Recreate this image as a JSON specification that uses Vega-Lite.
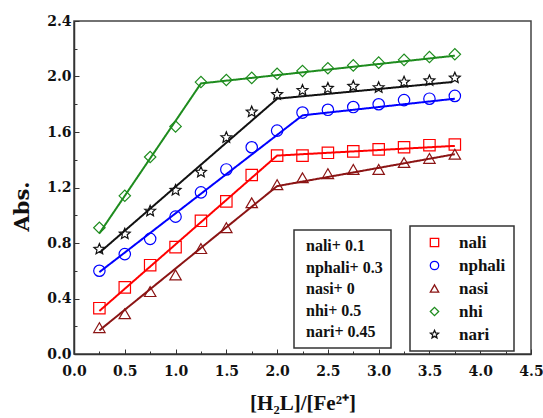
{
  "$schema": "https://vega.github.io/schema/vega-lite/v6.json",
  "width": 457,
  "height": 333,
  "autosize": {"type": "none"},
  "padding": {"left": 74, "top": 21, "right": 12, "bottom": 64},
  "background": "white",
  "config": {
    "view": {"stroke": "#444", "strokeWidth": 1.5},
    "axis": {
      "grid": false,
      "domainColor": "#333",
      "domainWidth": 1.5,
      "tickColor": "#333",
      "tickWidth": 1,
      "labelFont": "DejaVu Serif",
      "labelFontWeight": "bold",
      "labelFontSize": 14,
      "labelColor": "#111",
      "titleColor": "#111"
    },
    "legend": {"strokeWidth": 1.5, "strokeColor": "#333", "fillColor": "white"}
  },
  "datasets": {
    "points": [
      {"series": "nali", "x": 0.25, "y": 0.33}, {"series": "nali", "x": 0.5, "y": 0.48}, {"series": "nali", "x": 0.75, "y": 0.64}, {"series": "nali", "x": 1.0, "y": 0.77}, {"series": "nali", "x": 1.25, "y": 0.96}, {"series": "nali", "x": 1.5, "y": 1.10}, {"series": "nali", "x": 1.75, "y": 1.29}, {"series": "nali", "x": 2.0, "y": 1.43}, {"series": "nali", "x": 2.25, "y": 1.43}, {"series": "nali", "x": 2.5, "y": 1.45}, {"series": "nali", "x": 2.75, "y": 1.46}, {"series": "nali", "x": 3.0, "y": 1.475}, {"series": "nali", "x": 3.25, "y": 1.49}, {"series": "nali", "x": 3.5, "y": 1.505}, {"series": "nali", "x": 3.75, "y": 1.51},
      {"series": "nphali", "x": 0.25, "y": 0.60}, {"series": "nphali", "x": 0.5, "y": 0.72}, {"series": "nphali", "x": 0.75, "y": 0.83}, {"series": "nphali", "x": 1.0, "y": 0.99}, {"series": "nphali", "x": 1.25, "y": 1.165}, {"series": "nphali", "x": 1.5, "y": 1.33}, {"series": "nphali", "x": 1.75, "y": 1.49}, {"series": "nphali", "x": 2.0, "y": 1.61}, {"series": "nphali", "x": 2.25, "y": 1.74}, {"series": "nphali", "x": 2.5, "y": 1.76}, {"series": "nphali", "x": 2.75, "y": 1.78}, {"series": "nphali", "x": 3.0, "y": 1.80}, {"series": "nphali", "x": 3.25, "y": 1.83}, {"series": "nphali", "x": 3.5, "y": 1.84}, {"series": "nphali", "x": 3.75, "y": 1.86},
      {"series": "nasi", "x": 0.25, "y": 0.19}, {"series": "nasi", "x": 0.5, "y": 0.29}, {"series": "nasi", "x": 0.75, "y": 0.45}, {"series": "nasi", "x": 1.0, "y": 0.57}, {"series": "nasi", "x": 1.25, "y": 0.76}, {"series": "nasi", "x": 1.5, "y": 0.91}, {"series": "nasi", "x": 1.75, "y": 1.09}, {"series": "nasi", "x": 2.0, "y": 1.22}, {"series": "nasi", "x": 2.25, "y": 1.27}, {"series": "nasi", "x": 2.5, "y": 1.30}, {"series": "nasi", "x": 2.75, "y": 1.33}, {"series": "nasi", "x": 3.0, "y": 1.33}, {"series": "nasi", "x": 3.25, "y": 1.38}, {"series": "nasi", "x": 3.5, "y": 1.41}, {"series": "nasi", "x": 3.75, "y": 1.44},
      {"series": "nhi", "x": 0.25, "y": 0.91}, {"series": "nhi", "x": 0.5, "y": 1.14}, {"series": "nhi", "x": 0.75, "y": 1.42}, {"series": "nhi", "x": 1.0, "y": 1.64}, {"series": "nhi", "x": 1.25, "y": 1.96}, {"series": "nhi", "x": 1.5, "y": 1.975}, {"series": "nhi", "x": 1.75, "y": 1.99}, {"series": "nhi", "x": 2.0, "y": 2.02}, {"series": "nhi", "x": 2.25, "y": 2.04}, {"series": "nhi", "x": 2.5, "y": 2.06}, {"series": "nhi", "x": 2.75, "y": 2.08}, {"series": "nhi", "x": 3.0, "y": 2.10}, {"series": "nhi", "x": 3.25, "y": 2.12}, {"series": "nhi", "x": 3.5, "y": 2.14}, {"series": "nhi", "x": 3.75, "y": 2.16},
      {"series": "nari", "x": 0.25, "y": 0.755}, {"series": "nari", "x": 0.5, "y": 0.865}, {"series": "nari", "x": 0.75, "y": 1.03}, {"series": "nari", "x": 1.0, "y": 1.18}, {"series": "nari", "x": 1.25, "y": 1.31}, {"series": "nari", "x": 1.5, "y": 1.56}, {"series": "nari", "x": 1.75, "y": 1.745}, {"series": "nari", "x": 2.0, "y": 1.87}, {"series": "nari", "x": 2.25, "y": 1.90}, {"series": "nari", "x": 2.5, "y": 1.915}, {"series": "nari", "x": 2.75, "y": 1.93}, {"series": "nari", "x": 3.0, "y": 1.92}, {"series": "nari", "x": 3.25, "y": 1.96}, {"series": "nari", "x": 3.5, "y": 1.97}, {"series": "nari", "x": 3.75, "y": 1.99}
    ],
    "fits": [
      {"series": "nali", "note": "nali+ 0.1", "x": 0.25, "y": 0.31}, {"series": "nali", "note": "nali+ 0.1", "x": 2.0, "y": 1.43}, {"series": "nali", "note": "nali+ 0.1", "x": 3.75, "y": 1.50},
      {"series": "nphali", "note": "nphali+ 0.3", "x": 0.25, "y": 0.59}, {"series": "nphali", "note": "nphali+ 0.3", "x": 2.25, "y": 1.72}, {"series": "nphali", "note": "nphali+ 0.3", "x": 3.75, "y": 1.84},
      {"series": "nasi", "note": "nasi+ 0", "x": 0.25, "y": 0.17}, {"series": "nasi", "note": "nasi+ 0", "x": 2.0, "y": 1.21}, {"series": "nasi", "note": "nasi+ 0", "x": 3.75, "y": 1.44},
      {"series": "nhi", "note": "nhi+ 0.5", "x": 0.25, "y": 0.87}, {"series": "nhi", "note": "nhi+ 0.5", "x": 1.25, "y": 1.95}, {"series": "nhi", "note": "nhi+ 0.5", "x": 3.75, "y": 2.15},
      {"series": "nari", "note": "nari+ 0.45", "x": 0.25, "y": 0.73}, {"series": "nari", "note": "nari+ 0.45", "x": 2.0, "y": 1.84}, {"series": "nari", "note": "nari+ 0.45", "x": 3.72, "y": 1.96}
    ]
  },
  "encoding": {
    "x": {
      "field": "x", "type": "quantitative",
      "scale": {"domain": [0, 4.5], "nice": false, "zero": false},
      "axis": {
        "values": [0, 0.25, 0.5, 0.75, 1, 1.25, 1.5, 1.75, 2, 2.25, 2.5, 2.75, 3, 3.25, 3.5, 3.75, 4, 4.25, 4.5],
        "labelExpr": "abs(datum.value*2 - round(datum.value*2)) < 0.001 ? format(datum.value, '.1f') : ''",
        "tickSize": {"condition": {"test": "abs(datum.value*2 - round(datum.value*2)) < 0.001", "value": -5}, "value": -3},
        "labelPadding": 15,
        "labelFlush": false,
        "labelOverlap": false,
        "title": "[H₂L]/[Fe²⁺]",
        "titleFont": "Liberation Serif",
        "titleFontWeight": "bold",
        "titleFontSize": 21,
        "titlePadding": 12
      }
    },
    "y": {
      "field": "y", "type": "quantitative",
      "scale": {"domain": [0, 2.4], "nice": false},
      "axis": {
        "values": [0, 0.2, 0.4, 0.6, 0.8, 1.0, 1.2, 1.4, 1.6, 1.8, 2.0, 2.2, 2.4],
        "labelExpr": "abs(datum.value/0.4 - round(datum.value/0.4)) < 0.001 ? format(datum.value, '.1f') : ''",
        "tickSize": {"condition": {"test": "abs(datum.value/0.4 - round(datum.value/0.4)) < 0.001", "value": -5}, "value": -3},
        "labelPadding": 8,
        "labelFlush": false,
        "labelOverlap": false,
        "title": "Abs.",
        "titleFont": "DejaVu Serif",
        "titleFontWeight": "bold",
        "titleFontSize": 21,
        "titleAngle": 270,
        "titleAlign": "center",
        "titleBaseline": "middle",
        "titleX": -52,
        "titleY": 185
      }
    }
  },
  "layer": [
    {
      "data": {"name": "fits"},
      "mark": {"type": "line", "strokeWidth": 2},
      "encoding": {
        "color": {"field": "series", "type": "nominal"},
        "strokeDash": {
          "field": "note", "type": "nominal",
          "scale": {"domain": ["nali+ 0.1", "nphali+ 0.3", "nasi+ 0", "nhi+ 0.5", "nari+ 0.45"], "range": [[1, 0], [1, 0], [1, 0], [1, 0], [1, 0]]},
          "legend": {
            "orient": "none", "legendX": 220, "legendY": 209, "title": null,
            "padding": 8, "symbolSize": 0, "symbolOpacity": 0, "symbolStrokeWidth": 0,
            "labelOffset": -12, "symbolOffset": 0,
            "labelFont": "Liberation Serif", "labelFontWeight": "bold", "labelFontSize": 16,
            "labelColor": "#111", "rowPadding": 5.5, "labelLimit": 200
          }
        }
      }
    },
    {
      "data": {"name": "points"},
      "mark": {"type": "point", "filled": false, "strokeWidth": 1.2, "opacity": 1, "size": 130},
      "encoding": {
        "color": {
          "field": "series", "type": "nominal",
          "scale": {"domain": ["nali", "nphali", "nasi", "nhi", "nari"], "range": ["#ff0000", "#0000ff", "#8b1414", "#1e8c1e", "#111111"]},
          "legend": {
            "orient": "none", "legendX": 336, "legendY": 205, "title": null,
            "padding": 8, "symbolOffset": 8, "labelOffset": 16, "symbolSize": 70,
            "symbolStrokeWidth": 1.3, "symbolFillColor": "transparent",
            "labelFont": "Liberation Serif", "labelFontWeight": "bold", "labelFontSize": 17,
            "labelColor": "#111", "rowPadding": 5
          }
        },
        "shape": {
          "field": "series", "type": "nominal",
          "scale": {"domain": ["nali", "nphali", "nasi", "nhi", "nari"], "range": ["square", "circle", "triangle-up", "diamond", "M0,-1L0.265,-0.364L0.951,-0.309L0.428,0.139L0.588,0.809L0,0.45L-0.588,0.809L-0.428,0.139L-0.951,-0.309L-0.265,-0.364Z"]},
          "legend": {
            "orient": "none", "legendX": 336, "legendY": 205, "title": null,
            "padding": 8, "symbolOffset": 8, "labelOffset": 16, "symbolSize": 70,
            "symbolStrokeWidth": 1.3, "symbolFillColor": "transparent",
            "labelFont": "Liberation Serif", "labelFontWeight": "bold", "labelFontSize": 17,
            "labelColor": "#111", "rowPadding": 5
          }
        }
      }
    }
  ]
}
